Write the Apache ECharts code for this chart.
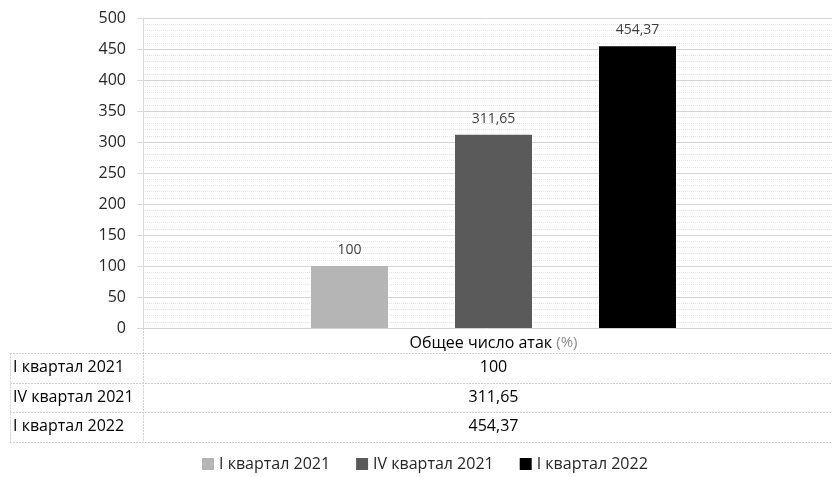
<!DOCTYPE html>
<html>
<head>
<meta charset="utf-8">
<script src="https://cdn.jsdelivr.net/npm/echarts@6/dist/echarts.min.js"></script>
<style>
  html, body { margin: 0; padding: 0; background: #fff; }
  #chart { width: 832px; height: 477px; }
</style>
</head>
<body>
<div id="chart"></div>
<script>
var category = ['Общее число атак']
var seriesNames = ['I квартал 2021', 'IV квартал 2021', 'I квартал 2022']
var seriesValues = [100, 311.65, 454.37]
var seriesColors = ['#b5b5b5', '#5a5a5a', '#000000']
var yTicks = { min: 0, max: 500, step: 50 }

var FONT = '"Open Sans", "Noto Sans", sans-serif'

function fmt(v) {
  return String(v).replace('.', ',')
}

var chart = echarts.init(document.getElementById('chart'))

// grid 0 carries the value axis and gridlines, grid 1 (shifted a bit) carries the bars
var series = seriesNames.map(function(name, i) {
  return {
    name: name,
    type: 'bar',
    xAxisIndex: 1,
    yAxisIndex: 1,
    data: [seriesValues[i]],
    barWidth: 77,
    barGap: '87%',
    itemStyle: { color: seriesColors[i] },
    label: {
      show: true,
      position: 'top',
      distance: 9,
      color: '#404040',
      fontSize: 14,
      fontFamily: FONT,
      formatter: function(p) { return fmt(p.value) }
    }
  }
})

chart.setOption({
  animation: false,
  textStyle: { fontFamily: FONT },
  grid: [
    { left: 143, top: 18, right: 0, height: 310 },
    { left: 155, top: 18, right: 0, height: 310 }
  ],
  legend: {
    left: 202,
    top: 456,
    padding: 0,
    icon: 'rect',
    itemWidth: 12,
    itemHeight: 12,
    itemGap: 26,
    textStyle: { fontSize: 16, color: '#262626', fontFamily: FONT },
    data: seriesNames
  },
  xAxis: [
    { type: 'category', gridIndex: 0, data: category, show: false },
    {
      type: 'category',
      gridIndex: 1,
      data: category,
      axisLine: { show: false },
      axisTick: { show: false },
      axisLabel: {
        margin: 7,
        fontSize: 16,
        color: '#000',
        formatter: function(v) { return v + ' {g|(%)}' },
        rich: { g: { color: '#8c8c8c', fontSize: 15, fontFamily: FONT } }
      }
    }
  ],
  yAxis: [
    {
      type: 'value',
      gridIndex: 0,
      min: yTicks.min,
      max: yTicks.max,
      interval: yTicks.step,
      axisLine: { show: true, lineStyle: { color: '#d9d9d9' } },
      axisTick: { show: true, length: 6, lineStyle: { color: '#d9d9d9' } },
      axisLabel: { margin: 17, fontSize: 16, color: '#262626' },
      splitLine: { lineStyle: { color: '#d4d4d4', width: 1 } },
      minorTick: { show: false, splitNumber: 5 },
      minorSplitLine: { show: true, lineStyle: { color: '#e4e4e4', type: 'dotted' } }
    },
    {
      type: 'value',
      gridIndex: 1,
      min: yTicks.min,
      max: yTicks.max,
      interval: yTicks.step,
      show: false
    }
  ],
  series: series
})

// data table below the plot
var cx = chart.convertToPixel({ xAxisIndex: 1 }, category[0])
var y0 = chart.convertToPixel({ yAxisIndex: 0 }, 0)
var tLeft = 10, tCol = 143, tRight = 832
var rowTop = 353, rowH = 29.5
var lineStyle = { stroke: '#d0d0d0', lineWidth: 1, lineDash: [2, 1] }
var els = []

function hline(y, x1) {
  els.push({ type: 'line', shape: { x1: x1, y1: y, x2: tRight, y2: y }, style: lineStyle, silent: true })
}
function vline(x, y1, y2) {
  els.push({ type: 'line', shape: { x1: x, y1: y1, x2: x, y2: y2 }, style: lineStyle, silent: true })
}

for (var r = 0; r <= seriesNames.length; r++) {
  hline(Math.round(rowTop + r * rowH) + 0.5, tLeft)
}
var tBottom = Math.round(rowTop + seriesNames.length * rowH) + 0.5
vline(tLeft + 0.5, rowTop + 0.5, tBottom)
vline(tCol + 0.5, y0, tBottom)

seriesNames.forEach(function(name, i) {
  var yc = rowTop + i * rowH + rowH / 2
  els.push({
    type: 'text', x: tLeft + 3, y: yc, silent: true,
    style: { text: name, fill: '#000', font: '16px ' + FONT, verticalAlign: 'middle', align: 'left' }
  })
  els.push({
    type: 'text', x: cx, y: yc, silent: true,
    style: { text: fmt(seriesValues[i]), fill: '#000', font: '16px ' + FONT, verticalAlign: 'middle', align: 'center' }
  })
})

chart.setOption({ graphic: els })
</script>
</body>
</html>
